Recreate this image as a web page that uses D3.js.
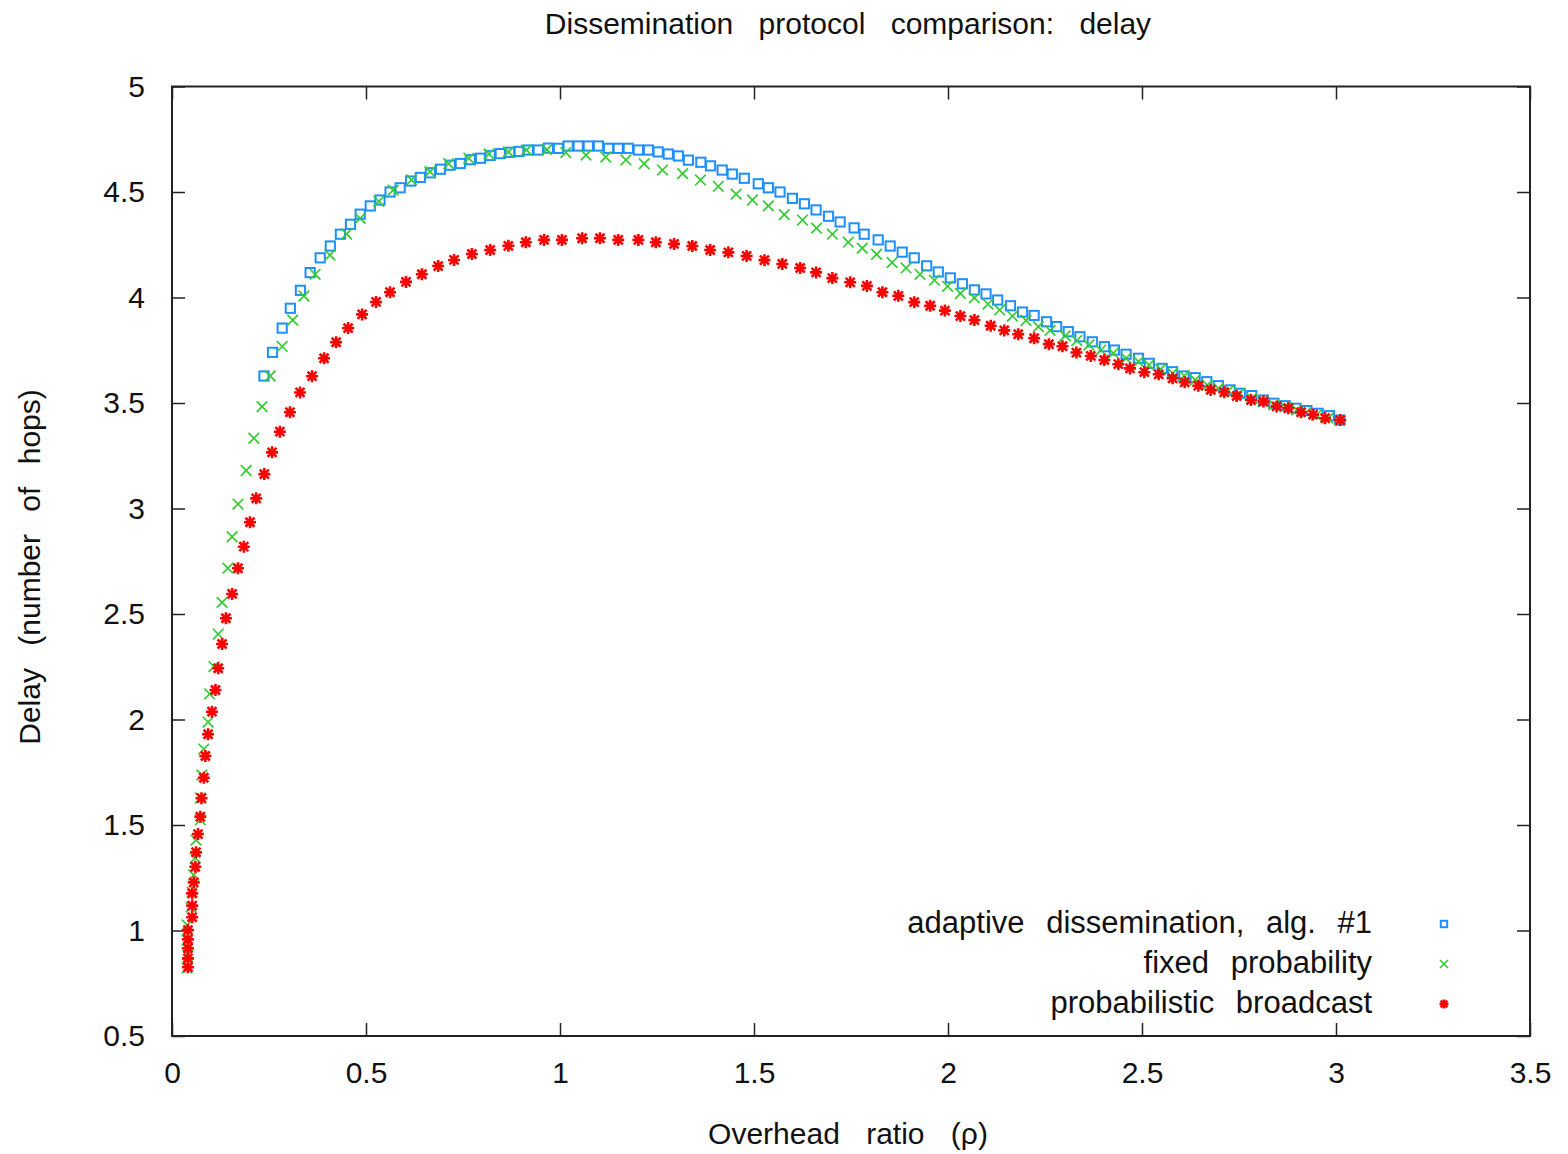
<!DOCTYPE html>
<html>
<head>
<meta charset="utf-8">
<script src="https://cdn.jsdelivr.net/npm/d3@7"></script>
<style>
  body { margin: 0; background: #fff; }
  text { font-family: "Liberation Sans", Arial, sans-serif; fill: #111; }
</style>
</head>
<body>
<div id="my_dataviz"></div>
<script>

// adaptive dissemination, alg. #1
var adaptiveRho = [0.237,0.259,0.284,0.305,0.331,0.356,0.382,0.408,0.434,0.460,0.485,0.511,0.536,0.562,0.588,
    0.615,0.640,0.666,0.692,0.717,0.743,0.769,0.795,0.820,0.846,0.871,0.894,0.918,0.944,0.970,0.996,
    1.021,1.047,1.073,1.099,1.125,1.150,1.176,1.202,1.228,1.253,1.279,1.305,1.331,
    1.363,1.388,1.418,1.444,1.475,1.511,1.537,1.567,1.599,1.630,1.660,
    1.692,1.722,1.758,1.784,1.820,1.851,1.882,1.913,1.945,1.975,2.006,
    2.037,2.068,2.098,2.128,2.161,2.192,2.222,2.254,2.280,2.310,2.340,
    2.372,2.403,2.429,2.459,2.491,2.519,2.552,2.579,2.608,2.637,2.667,
    2.697,2.727,2.753,2.783,2.813,2.840,2.869,2.897,2.925,2.954,2.983,3.010];
var adaptiveDelay = [3.628,3.740,3.855,3.949,4.034,4.118,4.188,4.244,4.300,4.347,4.395,4.434,4.462,4.500,4.520,
    4.552,4.569,4.591,4.608,4.627,4.635,4.653,4.660,4.673,4.682,4.688,4.692,4.699,4.699,4.708,4.707,
    4.718,4.718,4.718,4.718,4.707,4.707,4.707,4.699,4.699,4.690,4.680,4.671,4.651,
    4.641,4.624,4.604,4.585,4.565,4.539,4.520,4.500,4.470,4.444,4.415,
    4.385,4.358,4.330,4.300,4.273,4.244,4.215,4.188,4.150,4.121,4.093,
    4.065,4.036,4.017,3.988,3.961,3.931,3.915,3.885,3.862,3.838,3.814,
    3.790,3.767,3.751,3.731,3.712,3.688,3.664,3.648,3.628,3.620,3.601,
    3.582,3.562,3.546,3.535,3.514,3.499,3.487,3.475,3.464,3.451,3.440,3.419];

// fixed probability
var fixedRho = [0.039,0.041,0.039,0.039,0.049,0.052,0.056,0.060,0.062,0.073,
    0.073,0.077,0.082,0.093,0.097,0.108,0.119,0.129,0.144,0.155,
    0.170,0.191,0.211,0.232,0.253,0.284,0.311,0.340,0.369,0.407,
    0.450,0.485,0.533,0.570,0.617,0.665,0.713,0.765,0.817,0.867,
    0.914,0.966,1.015,1.067,1.118,1.170,1.217,1.264,1.316,1.362,
    1.408,1.454,1.496,1.537,1.578,1.625,1.661,1.702,1.743,1.779,
    1.816,1.856,1.892,1.928,1.965,1.999,2.032,2.068,2.103,2.133,
    2.166,2.201,2.233,2.263,2.302,2.332,2.363,2.394,2.426,2.459,
    2.491,2.518,2.548,2.579,2.609,2.637,2.668,2.697,2.722,2.751,
    2.783,2.813,2.840,2.869,2.899,2.923,2.950,2.980,3.010];
var fixedDelay = [0.822,0.884,0.955,1.026,1.111,1.182,1.263,1.344,1.429,1.524,
    1.628,1.737,1.860,1.988,2.121,2.251,2.405,2.555,2.717,2.866,
    3.021,3.180,3.333,3.483,3.628,3.768,3.893,4.007,4.110,4.201,
    4.301,4.375,4.456,4.509,4.557,4.596,4.634,4.660,4.680,4.690,
    4.699,4.701,4.687,4.675,4.666,4.652,4.634,4.604,4.587,4.557,
    4.527,4.490,4.462,4.434,4.393,4.367,4.329,4.300,4.262,4.234,
    4.205,4.166,4.140,4.110,4.082,4.053,4.019,3.998,3.969,3.941,
    3.912,3.891,3.862,3.844,3.818,3.796,3.775,3.751,3.736,3.712,
    3.696,3.680,3.660,3.641,3.629,3.609,3.585,3.570,3.557,3.546,
    3.522,3.506,3.491,3.483,3.467,3.456,3.443,3.428,3.419];

// probabilistic broadcast
var probRho = [0.041,0.041,0.041,0.041,0.041,0.052,0.052,0.052,0.056,0.060,
    0.062,0.067,0.073,0.076,0.082,0.086,0.093,0.103,0.112,0.119,
    0.129,0.139,0.155,0.170,0.185,0.201,0.217,0.238,0.258,0.278,
    0.304,0.330,0.361,0.392,0.423,0.454,0.490,0.526,0.562,0.603,
    0.644,0.686,0.727,0.773,0.820,0.867,0.912,0.959,1.005,1.057,
    1.103,1.150,1.202,1.247,1.294,1.341,1.387,1.434,1.481,1.527,
    1.573,1.619,1.660,1.702,1.748,1.791,1.831,1.872,1.913,1.954,
    1.992,2.032,2.068,2.110,2.145,2.181,2.222,2.260,2.295,2.331,
    2.368,2.403,2.439,2.469,2.506,2.543,2.579,2.610,2.645,2.677,
    2.712,2.744,2.781,2.813,2.847,2.877,2.910,2.941,2.972,3.011];
var probDelay = [0.826,0.868,0.916,0.958,1.002,1.063,1.118,1.176,1.228,1.302,
    1.371,1.457,1.539,1.627,1.724,1.827,1.930,2.037,2.140,2.243,
    2.358,2.480,2.595,2.717,2.819,2.935,3.048,3.163,3.266,3.364,
    3.456,3.550,3.627,3.712,3.788,3.855,3.920,3.979,4.025,4.074,
    4.110,4.149,4.178,4.206,4.225,4.245,4.262,4.273,4.273,4.281,
    4.281,4.273,4.273,4.262,4.254,4.244,4.225,4.214,4.197,4.177,
    4.159,4.140,4.119,4.092,4.072,4.055,4.025,4.008,3.978,3.961,
    3.938,3.912,3.893,3.866,3.844,3.826,3.807,3.779,3.769,3.739,
    3.723,3.704,3.684,3.664,3.646,3.636,3.617,3.598,3.582,3.562,
    3.551,3.533,3.514,3.507,3.484,3.475,3.456,3.445,3.428,3.419];

var seriesNames = ["adaptive dissemination, alg. #1", "fixed probability", "probabilistic broadcast"];
var seriesColors = ["#1e8fff", "#33cc33", "#ff0000"];
var xTicks = [0, 0.5, 1, 1.5, 2, 2.5, 3, 3.5];
var yTicks = [0.5, 1, 1.5, 2, 2.5, 3, 3.5, 4, 4.5, 5];

var margin = {top: 86.5, right: 38, bottom: 118, left: 172},
    width = 1568 - margin.left - margin.right,
    height = 1154 - margin.top - margin.bottom;

var svgRoot = d3.select("#my_dataviz")
    .append("svg")
        .attr("width", 1568)
        .attr("height", 1154);
var svg = svgRoot.append("g")
        .attr("transform", "translate(" + margin.left + "," + margin.top + ")");

var x = d3.scaleLinear().domain([0, 3.5]).range([0, width]);
var y = d3.scaleLinear().domain([0.5, 5]).range([height, 0]);

var fmt = function(d) { return d3.format("")(d); };

// axes, gnuplot style: ticks pointing inwards on all four sides
svg.append("g")
    .attr("transform", "translate(0," + height + ")")
    .call(d3.axisBottom(x).tickValues(xTicks).tickSize(-13).tickPadding(26).tickFormat(fmt))
    .call(function(g) { g.select(".domain").remove(); });
svg.append("g")
    .call(d3.axisTop(x).tickValues(xTicks).tickSize(-13).tickFormat(""))
    .call(function(g) { g.select(".domain").remove(); });
svg.append("g")
    .call(d3.axisLeft(y).tickValues(yTicks).tickSize(-13).tickPadding(27).tickFormat(fmt))
    .call(function(g) { g.select(".domain").remove(); });
svg.append("g")
    .attr("transform", "translate(" + width + ",0)")
    .call(d3.axisRight(y).tickValues(yTicks).tickSize(-13).tickFormat(""))
    .call(function(g) { g.select(".domain").remove(); });

svg.selectAll(".tick line").attr("stroke", "#222").attr("stroke-width", 1.5);
svg.selectAll(".tick text")
    .style("font-family", "'Liberation Sans', Arial, sans-serif")
    .style("font-size", "30px")
    .attr("fill", "#111");

// border
svg.append("rect")
    .attr("x", 0).attr("y", 0)
    .attr("width", width).attr("height", height)
    .attr("fill", "none")
    .attr("stroke", "#222")
    .attr("stroke-width", 2);

// marker drawers
function square(g, s) {
    g.append("rect")
        .attr("x", -s).attr("y", -s)
        .attr("width", 2 * s).attr("height", 2 * s)
        .attr("fill", "none")
        .attr("stroke", seriesColors[0])
        .attr("stroke-width", 2);
}
function cross(g, s) {
    g.append("path")
        .attr("d", "M" + (-s) + "," + (-s) + "L" + s + "," + s + "M" + (-s) + "," + s + "L" + s + "," + (-s))
        .attr("stroke", seriesColors[1])
        .attr("stroke-width", 1.7);
}
function star(g, s) {
    var d = s * 0.75;
    g.append("path")
        .attr("d", "M" + (-s) + ",0L" + s + ",0M0," + (-s) + "L0," + s +
                   "M" + (-d) + "," + (-d) + "L" + d + "," + d + "M" + (-d) + "," + d + "L" + d + "," + (-d))
        .attr("stroke", seriesColors[2])
        .attr("stroke-width", 2.6);
}
var drawers = [square, cross, star];
var markerSize = [4.6, 5.3, 6];
var legendSize = [3.2, 4, 4.5];

var series = [
    d3.zip(adaptiveRho, adaptiveDelay),
    d3.zip(fixedRho, fixedDelay),
    d3.zip(probRho, probDelay)
];

series.forEach(function(data, i) {
    svg.append("g")
        .selectAll("g")
        .data(data)
        .enter()
        .append("g")
            .attr("transform", function(d) { return "translate(" + x(d[0]) + "," + y(d[1]) + ")"; })
            .each(function() { drawers[i](d3.select(this), markerSize[i]); });
});

// legend
var legendY = [933, 973, 1013];
seriesNames.forEach(function(name, i) {
    svgRoot.append("text")
        .attr("x", 1372)
        .attr("y", legendY[i])
        .attr("text-anchor", "end")
        .style("font-size", "31px")
        .style("word-spacing", "13px")
        .text(name);
    var g = svgRoot.append("g")
        .attr("transform", "translate(1444," + (legendY[i] - 9) + ")");
    drawers[i](g, legendSize[i]);
});

// title
svgRoot.append("text")
    .attr("x", 848)
    .attr("y", 34)
    .attr("text-anchor", "middle")
    .style("font-size", "30px")
    .style("word-spacing", "17px")
    .text("Dissemination protocol comparison: delay");

// X axis label
svgRoot.append("text")
    .attr("x", 848)
    .attr("y", 1144)
    .attr("text-anchor", "middle")
    .style("font-size", "30px")
    .style("word-spacing", "18px")
    .text("Overhead ratio (ρ)");

// Y axis label
svgRoot.append("text")
    .attr("x", -567)
    .attr("y", 40)
    .attr("transform", "rotate(-90)")
    .attr("text-anchor", "middle")
    .style("font-size", "30px")
    .style("word-spacing", "14px")
    .text("Delay (number of hops)");

</script>
</body>
</html>
